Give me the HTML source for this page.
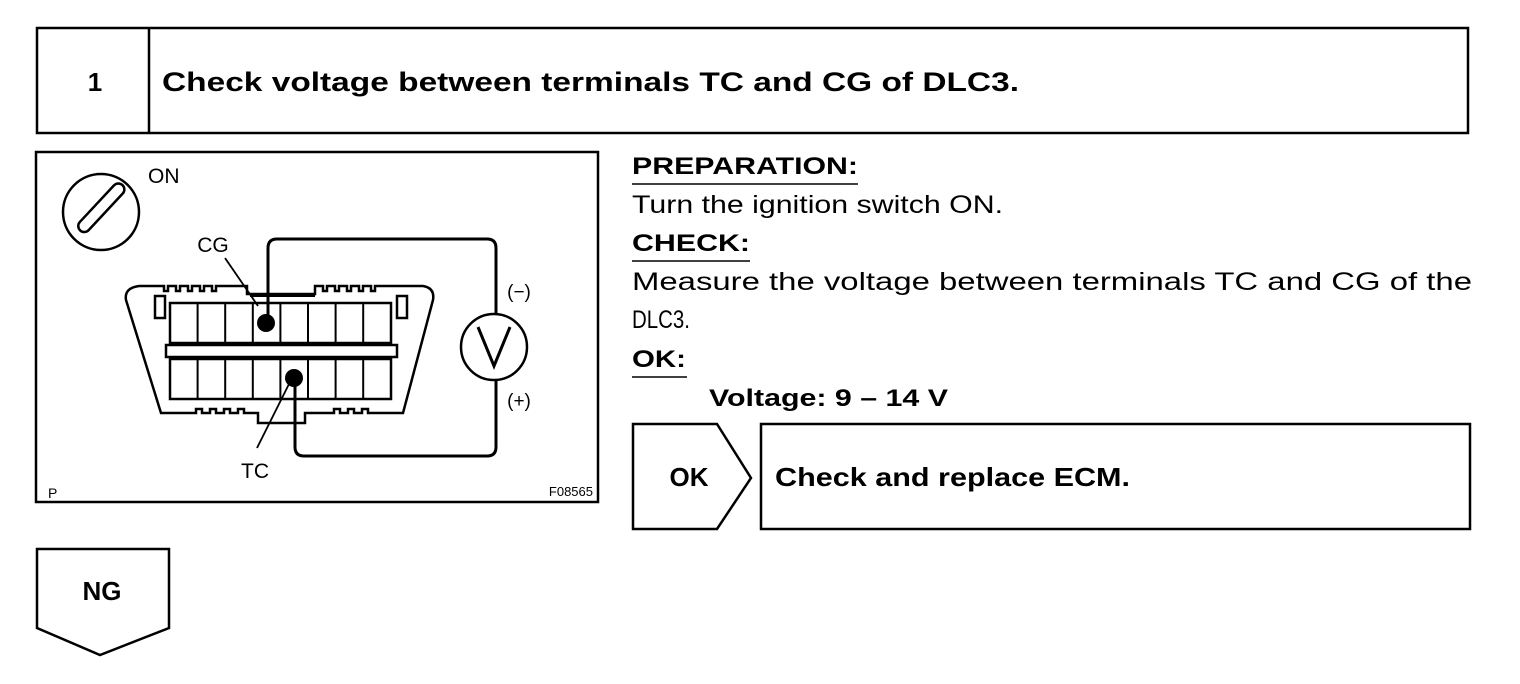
<!DOCTYPE html>
<html><head><meta charset="utf-8"><style>
html,body{margin:0;padding:0;background:#fff;}
svg{display:block;}
text{font-family:"Liberation Sans",sans-serif;fill:#000;}
</style></head><body>
<svg width="1520" height="684" viewBox="0 0 1520 684" xmlns="http://www.w3.org/2000/svg">
<g fill="none" stroke="#000" stroke-width="2.5">
<rect x="37" y="28" width="1431" height="105"/>
<line x1="149" y1="28" x2="149" y2="133"/>
<rect x="36" y="152" width="562" height="350"/>
<path d="M633 424 H717 L751 478 L717 529 H633 Z"/>
<rect x="761" y="424" width="709" height="105"/>
<path d="M37 549 H169 V628 L100 655 L37 628 Z"/>
</g>
<text x="95" y="91" font-size="26" font-weight="bold" text-anchor="middle">1</text>
<text x="162" y="91" font-size="27" font-weight="bold" textLength="857" lengthAdjust="spacingAndGlyphs">Check voltage between terminals TC and CG of DLC3.</text>

<text x="632" y="174" font-size="24" font-weight="bold" textLength="226" lengthAdjust="spacingAndGlyphs">PREPARATION:</text>
<line x1="632" y1="184" x2="858" y2="184" stroke="#000" stroke-width="1.5"/>
<text x="632" y="213" font-size="25" textLength="371" lengthAdjust="spacingAndGlyphs">Turn the ignition switch ON.</text>
<text x="632" y="251" font-size="24" font-weight="bold" textLength="118" lengthAdjust="spacingAndGlyphs">CHECK:</text>
<line x1="632" y1="261" x2="750" y2="261" stroke="#000" stroke-width="1.5"/>
<text x="632" y="290" font-size="25" textLength="840" lengthAdjust="spacingAndGlyphs">Measure the voltage between terminals TC and CG of the</text>
<text x="632" y="328" font-size="25" textLength="58" lengthAdjust="spacingAndGlyphs">DLC3.</text>
<text x="632" y="367" font-size="24" font-weight="bold" textLength="54" lengthAdjust="spacingAndGlyphs">OK:</text>
<line x1="632" y1="377" x2="687" y2="377" stroke="#000" stroke-width="1.5"/>
<text x="709" y="406" font-size="24" font-weight="bold" textLength="239" lengthAdjust="spacingAndGlyphs">Voltage: 9 – 14 V</text>
<text x="689" y="486" font-size="26" font-weight="bold" text-anchor="middle">OK</text>
<text x="775" y="486" font-size="26" font-weight="bold" textLength="355" lengthAdjust="spacingAndGlyphs">Check and replace ECM.</text>
<text x="102" y="600" font-size="26" font-weight="bold" text-anchor="middle">NG</text>

<g fill="none" stroke="#000" stroke-width="2.5">
<circle cx="101" cy="212" r="38"/>
<rect x="-6" y="-30" width="12" height="62" rx="6" transform="translate(102 207) rotate(43)"/>
<path d="M139 286 H164 v5 h4 v-5 h8 v5 h4 v-5 h8 v5 h4 v-5 h8 v5 h4 v-5 h8 v5 h4 v-5 H247 v8 H315 v-8 h8 v5 h4 v-5 h8 v5 h4 v-5 h8 v5 h4 v-5 h8 v5 h4 v-5 h8 v5 h4 v-5 H423 Q435 288 433 300 L403 413 H368 v-4 h-6 v4 h-8 v-4 h-6 v4 h-8 v-4 h-6 v4 H305 v10 H258 v-10 H244 v-4 h-6 v4 h-8 v-4 h-6 v4 h-8 v-4 h-6 v4 h-8 v-4 h-6 v4 H161 L126 300 Q124 288 139 286 Z"/>
<rect x="170" y="303" width="221" height="40"/>
<rect x="170" y="359" width="221" height="40"/>
<rect x="166" y="345" width="231" height="12"/>
<rect x="155" y="296" width="10" height="22"/>
<rect x="397" y="296" width="10" height="22"/>
<g stroke-width="2">
<line x1="197.6" y1="303" x2="197.6" y2="343"/><line x1="225.2" y1="303" x2="225.2" y2="343"/><line x1="252.8" y1="303" x2="252.8" y2="343"/><line x1="280.4" y1="303" x2="280.4" y2="343"/><line x1="308" y1="303" x2="308" y2="343"/><line x1="335.6" y1="303" x2="335.6" y2="343"/><line x1="363.2" y1="303" x2="363.2" y2="343"/>
<line x1="197.6" y1="359" x2="197.6" y2="399"/><line x1="225.2" y1="359" x2="225.2" y2="399"/><line x1="252.8" y1="359" x2="252.8" y2="399"/><line x1="280.4" y1="359" x2="280.4" y2="399"/><line x1="308" y1="359" x2="308" y2="399"/><line x1="335.6" y1="359" x2="335.6" y2="399"/><line x1="363.2" y1="359" x2="363.2" y2="399"/>
<line x1="250" y1="296" x2="315" y2="296"/>
</g>
<path d="M268 323 V248 Q268 239 277 239 H487 Q496 239 496 248 V314" stroke-width="3"/>
<path d="M295 379 V447 Q295 456 304 456 H487 Q496 456 496 447 V380" stroke-width="3"/>
<circle cx="494" cy="347" r="33"/>
<path d="M478 327 L494 366 L510 327" stroke-width="3"/>
<line x1="225" y1="258" x2="258" y2="306" stroke-width="1.8"/>
<line x1="257" y1="448" x2="290" y2="382" stroke-width="1.8"/>
</g>
<circle cx="266" cy="323" r="9" fill="#000"/>
<circle cx="294" cy="378" r="9" fill="#000"/>
<text x="148" y="183" font-size="21">ON</text>
<text x="213" y="252" font-size="21" text-anchor="middle">CG</text>
<text x="255" y="478" font-size="21" text-anchor="middle">TC</text>
<text x="519" y="298" font-size="19" text-anchor="middle">(−)</text>
<text x="519" y="407" font-size="19" text-anchor="middle">(+)</text>
<text x="48" y="498" font-size="14">P</text>
<text x="593" y="496" font-size="13" text-anchor="end">F08565</text>
</svg>
</body></html>
